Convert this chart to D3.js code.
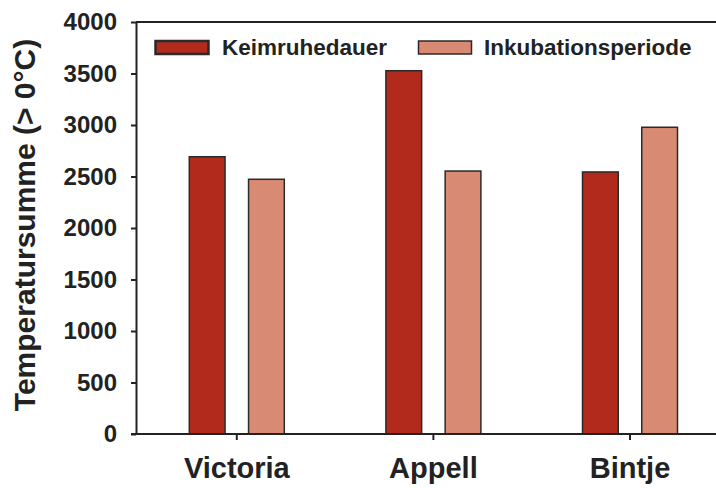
<!DOCTYPE html>
<html>
<head>
<meta charset="utf-8">
<script src="https://cdn.jsdelivr.net/npm/d3@7"></script>
<style>
  html, body { margin: 0; padding: 0; background: #fff; }
  svg { display: block; }
  text { font-family: "Liberation Sans", Arial, sans-serif; font-weight: bold; fill: #222; }
</style>
</head>
<body>
<svg id="chart" width="716" height="488"></svg>
<script>
const categories = ["Victoria", "Appell", "Bintje"];
const seriesNames = ["Keimruhedauer", "Inkubationsperiode"];
const keimruhedauer = [2692, 3527, 2544];
const inkubationsperiode = [2473, 2553, 2978];
const yTicks = [0, 500, 1000, 1500, 2000, 2500, 3000, 3500, 4000];
const colors = ["#b12a1c", "#d88a72"];
const yLabel = "Temperatursumme (> 0°C)";

const seriesValues = [keimruhedauer, inkubationsperiode];

const svg = d3.select("#chart");
const plot = { left: 136, right: 760, top: 22, bottom: 434 };

const x = d3.scaleBand().domain(categories).range([138.5, 728.3]).paddingInner(0).paddingOuter(0);
const xSub = d3.scaleBand().domain(seriesNames).range([-47.5, 47.5]).paddingInner(0.3966).paddingOuter(0);
const y = d3.scaleLinear().domain([0, 4000]).range([plot.bottom, plot.top]);

// bars
seriesNames.forEach((s, si) => {
  svg.append("g").selectAll("rect")
    .data(categories.map((c, ci) => ({ c, v: seriesValues[si][ci] })))
    .join("rect")
    .attr("x", d => x(d.c) + x.bandwidth() / 2 + xSub(s))
    .attr("y", d => y(d.v))
    .attr("width", xSub.bandwidth())
    .attr("height", d => y(0) - y(d.v))
    .attr("fill", colors[si])
    .attr("stroke", "#2a2a2a")
    .attr("stroke-width", 1.5);
});

// top frame line
svg.append("line")
  .attr("x1", plot.left).attr("x2", plot.right)
  .attr("y1", plot.top).attr("y2", plot.top)
  .attr("stroke", "#222").attr("stroke-width", 2);

// y axis
const yAxis = svg.append("g")
  .attr("transform", `translate(${plot.left},0)`)
  .call(d3.axisLeft(y).tickValues(yTicks).tickFormat(d3.format("d")).tickSize(5).tickSizeOuter(0).tickPadding(14));
yAxis.select(".domain").attr("stroke", "#222").attr("stroke-width", 2);
yAxis.selectAll(".tick line").attr("stroke", "#222").attr("stroke-width", 2);
yAxis.selectAll(".tick text")
  .attr("font-size", 24).attr("font-family", "Liberation Sans, Arial, sans-serif")
  .attr("font-weight", "bold").attr("fill", "#222");

// x axis
const xAxis = svg.append("g")
  .attr("transform", `translate(0,${plot.bottom})`)
  .call(d3.axisBottom(x).tickSize(6).tickSizeOuter(0).tickPadding(17));
xAxis.select(".domain").attr("d", `M${plot.left - 5},0H${plot.right}`).attr("stroke", "#222").attr("stroke-width", 2);
xAxis.selectAll(".tick line").attr("stroke", "#222").attr("stroke-width", 2);
xAxis.selectAll(".tick text")
  .attr("font-size", 29).attr("font-family", "Liberation Sans, Arial, sans-serif")
  .attr("font-weight", "bold").attr("fill", "#222");

// y label
svg.append("text")
  .attr("transform", `translate(35,225) rotate(-90)`)
  .attr("text-anchor", "middle")
  .attr("font-size", 30)
  .text(yLabel);

// legend
const legendItems = [
  { name: seriesNames[0], sx: 155.5, tx: 222 },
  { name: seriesNames[1], sx: 418.5, tx: 484 }
];
const lg = svg.append("g");
legendItems.forEach((it, i) => {
  lg.append("rect")
    .attr("x", it.sx).attr("y", 41)
    .attr("width", 53).attr("height", 13)
    .attr("fill", colors[i]).attr("stroke", "#2a2a2a").attr("stroke-width", i === 0 ? 2.5 : 1.5);
  lg.append("text")
    .attr("x", it.tx).attr("y", 55)
    .attr("font-size", 22.5)
    .text(it.name);
});
</script>
</body>
</html>
